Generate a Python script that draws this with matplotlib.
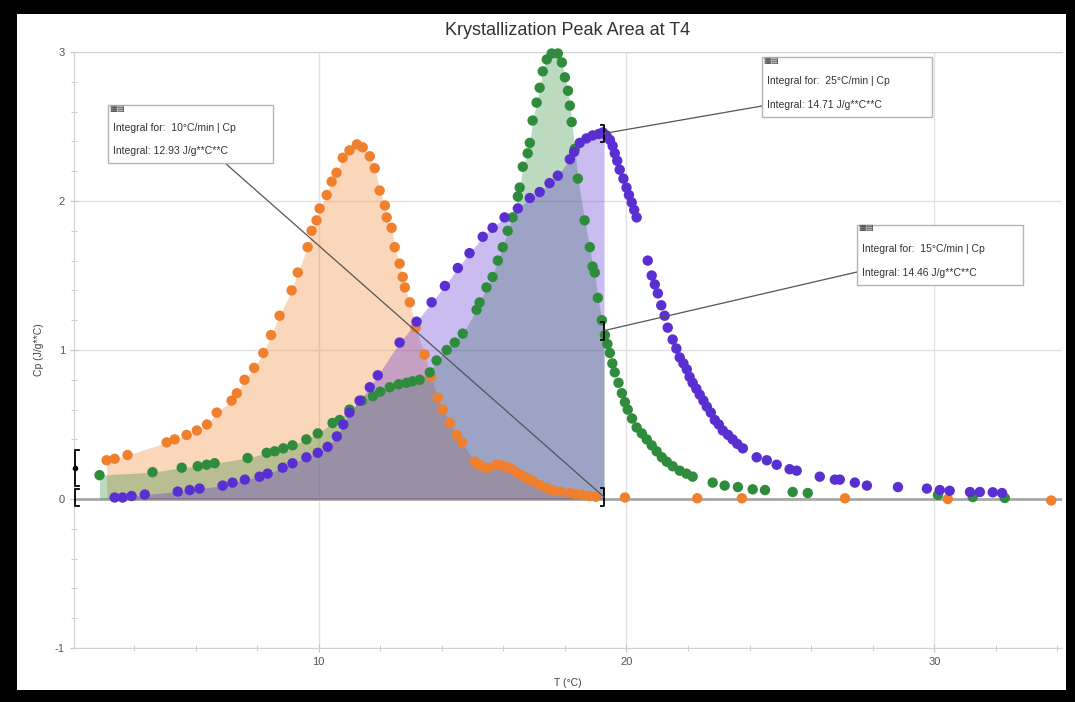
# ===============================
# Imports
# ===============================
import numpy as np
import matplotlib
matplotlib.use("Agg")
import matplotlib.pyplot as plt
from matplotlib.patches import Rectangle
from matplotlib.ticker import MultipleLocator

plt.rcParams['font.family'] = ['Liberation Sans', 'DejaVu Sans']
plt.rcParams['axes.unicode_minus'] = False

# ===============================
# Data (Cp vs T, three cooling rates)
# ===============================
t_10 = [3.11, 3.37, 3.79, 5.06, 5.32, 5.71, 6.04, 6.37, 6.69, 7.17, 7.34, 7.59, 7.9, 8.2,
        8.45, 8.73, 9.12, 9.32, 9.64, 9.77, 9.93, 10.03, 10.26, 10.42, 10.58, 10.78, 11.0,
        11.24, 11.43, 11.66, 11.82, 11.98, 12.15, 12.21, 12.37, 12.47, 12.63, 12.73, 12.8,
        12.96, 13.15, 13.44, 13.65, 13.87, 14.03, 14.26, 14.49, 14.65, 15.07, 15.2, 15.33,
        15.5, 15.78, 15.95, 16.11, 16.27, 16.43, 16.6, 16.76, 16.95, 17.18, 17.4, 17.6,
        17.85, 18.16, 18.35, 18.58, 18.8, 19.0, 19.95, 22.3, 23.75, 27.1, 30.44, 33.8]
cp_10 = [0.26, 0.27, 0.295, 0.38, 0.40, 0.43, 0.46, 0.50, 0.58, 0.66, 0.71, 0.80, 0.88, 0.98,
         1.1, 1.23, 1.40, 1.52, 1.69, 1.80, 1.87, 1.95, 2.04, 2.13, 2.19, 2.29, 2.34,
         2.38, 2.36, 2.30, 2.22, 2.07, 1.97, 1.89, 1.82, 1.69, 1.58, 1.49, 1.42,
         1.32, 1.15, 0.97, 0.82, 0.68, 0.60, 0.51, 0.43, 0.38, 0.25, 0.23, 0.215,
         0.21, 0.23, 0.225, 0.215, 0.20, 0.18, 0.16, 0.14, 0.12, 0.094, 0.075, 0.06,
         0.05, 0.04, 0.033, 0.027, 0.02, 0.015, 0.01, 0.005, 0.005, 0.005, 0.0, -0.01]

t_25 = [2.88, 4.6, 5.55, 6.07, 6.36, 6.62, 7.69, 8.31, 8.57, 8.85, 9.15, 9.6, 9.97, 10.45,
        10.68, 11.0, 11.4, 11.76, 12.0, 12.31, 12.6, 12.86, 13.05, 13.28, 13.61, 13.83,
        14.16, 14.42, 14.68, 15.13, 15.23, 15.45, 15.65, 15.82, 15.98, 16.14, 16.3, 16.47,
        16.53, 16.63, 16.79, 16.86, 16.95, 17.08, 17.18, 17.28, 17.41, 17.57, 17.77, 17.9,
        18.0, 18.1, 18.16, 18.22, 18.32, 18.42, 18.64, 18.81, 18.9, 18.97, 19.07, 19.2,
        19.3, 19.38, 19.46, 19.54, 19.62, 19.74, 19.85, 19.95, 20.04, 20.18, 20.33, 20.5,
        20.66, 20.82, 20.98, 21.15, 21.31, 21.5, 21.73, 21.95, 22.15, 22.8, 23.19, 23.62,
        24.1, 24.5, 25.4, 25.89, 30.12, 31.25, 32.29]
cp_25 = [0.16, 0.18, 0.21, 0.22, 0.23, 0.24, 0.275, 0.31, 0.32, 0.34, 0.36, 0.40, 0.44, 0.51,
         0.53, 0.60, 0.66, 0.69, 0.72, 0.75, 0.77, 0.78, 0.79, 0.80, 0.85, 0.93,
         1.0, 1.05, 1.11, 1.27, 1.32, 1.42, 1.49, 1.60, 1.69, 1.80, 1.89, 2.03,
         2.09, 2.23, 2.32, 2.39, 2.54, 2.66, 2.76, 2.87, 2.95, 2.99, 2.99, 2.93,
         2.83, 2.74, 2.64, 2.53, 2.35, 2.15, 1.87, 1.69, 1.56, 1.52, 1.35, 1.20,
         1.10, 1.04, 0.98, 0.91, 0.85, 0.78, 0.71, 0.65, 0.60, 0.54, 0.48, 0.44,
         0.40, 0.36, 0.32, 0.28, 0.25, 0.22, 0.19, 0.17, 0.15, 0.11, 0.09, 0.08,
         0.065, 0.06, 0.047, 0.04, 0.027, 0.013, 0.007]

t_15 = [3.37, 3.63, 3.92, 4.35, 5.42, 5.81, 6.13, 6.88, 7.2, 7.6, 8.08, 8.34, 8.83, 9.15,
        9.6, 9.97, 10.29, 10.59, 10.8, 11.0, 11.33, 11.66, 11.92, 12.63, 13.18, 13.67,
        14.1, 14.52, 14.9, 15.33, 15.65, 16.04, 16.47, 16.86, 17.18, 17.5, 17.77, 18.16,
        18.3, 18.48, 18.7, 18.9, 19.1, 19.23, 19.35, 19.46, 19.55, 19.62, 19.7, 19.78,
        19.9, 20.0, 20.08, 20.17, 20.25, 20.33, 20.69, 20.82, 20.92, 21.02, 21.13, 21.24,
        21.34, 21.5, 21.62, 21.73, 21.85, 21.96, 22.05, 22.15, 22.27, 22.38, 22.5, 22.61,
        22.74, 22.87, 23.0, 23.13, 23.3, 23.45, 23.6, 23.78, 24.23, 24.56, 24.88, 25.3,
        25.53, 26.28, 26.77, 26.93, 27.42, 27.81, 28.82, 29.76, 30.18, 30.5, 31.16, 31.48,
        31.9, 32.2]
cp_15 = [0.01, 0.01, 0.02, 0.03, 0.05, 0.06, 0.07, 0.09, 0.11, 0.13, 0.15, 0.17, 0.21, 0.24,
         0.28, 0.31, 0.35, 0.42, 0.50, 0.58, 0.66, 0.75, 0.83, 1.05, 1.19, 1.32,
         1.43, 1.55, 1.65, 1.76, 1.82, 1.89, 1.95, 2.02, 2.06, 2.12, 2.17, 2.28,
         2.33, 2.39, 2.42, 2.44, 2.45, 2.46, 2.44, 2.41, 2.37, 2.32, 2.27, 2.21,
         2.15, 2.09, 2.04, 1.99, 1.94, 1.89, 1.60, 1.50, 1.44, 1.38, 1.30, 1.23,
         1.15, 1.07, 1.01, 0.95, 0.91, 0.87, 0.82, 0.78, 0.74, 0.70, 0.66, 0.62,
         0.58, 0.53, 0.50, 0.46, 0.43, 0.40, 0.37, 0.34, 0.28, 0.26, 0.23, 0.20,
         0.19, 0.15, 0.13, 0.13, 0.11, 0.09, 0.08, 0.07, 0.06, 0.055, 0.047, 0.047,
         0.045, 0.04]

# integration window end and left limit markers
t_end = 19.27
t_left_marker = 2.07
left_marker_y = [(0.09, 0.33), (-0.05, 0.07)]

integral_labels = ["10°C/min", "25°C/min", "15°C/min"]
integral_values = [12.93, 14.71, 14.46]

c_orange = '#F0802E'
c_green = '#2F8C3C'
c_purple = '#5A2FD2'

# ===============================
# Figure + framed canvas
# ===============================
W, H = 1075, 702
fig = plt.figure(figsize=(W / 100, H / 100), dpi=100)
fig.patch.set_facecolor('black')
fig.add_artist(Rectangle((17 / W, 1 - 690 / H), (1066 - 17) / W, (690 - 14) / H,
                         transform=fig.transFigure, facecolor='white', edgecolor='none', zorder=0))


def fpos(px, py):
    # pixel position (from top-left) -> figure fraction
    return px / W, 1 - py / H


ax = fig.add_axes([74 / W, 1 - 648 / H, (1062 - 74) / W, (648 - 52) / H])
ax.set_facecolor('none')
ax.set_xlim(2.05, 34.15)
ax.set_ylim(-1, 3)

ax.xaxis.set_major_locator(MultipleLocator(10))
ax.xaxis.set_minor_locator(MultipleLocator(2))
ax.yaxis.set_major_locator(MultipleLocator(1))
ax.yaxis.set_minor_locator(MultipleLocator(0.2))
ax.grid(True, which='major', color='#e2e2e2', linewidth=1.0)
ax.set_axisbelow(True)
ax.spines['right'].set_visible(False)
for side in ['left', 'bottom', 'top']:
    ax.spines[side].set_color('#d0d0d0')
ax.tick_params(which='both', direction='inout', color='#c4c4c4', labelsize=8,
               labelcolor='#555555')
ax.tick_params(which='major', length=6)
ax.tick_params(which='minor', length=4)
ax.axhline(0, color='#a8a8a8', linewidth=2.0, zorder=1)

ax.set_title('Krystallization Peak Area at T4', fontsize=13, color='#333333', pad=12)
ax.set_xlabel('T (°C)', fontsize=7.5, color='#444444', labelpad=8)
ax.set_ylabel('Cp (J/g**C)', fontsize=7.5, color='#444444', labelpad=8)

# ===============================
# Filled integration areas + points
# ===============================
series = [(t_10, cp_10, c_orange), (t_25, cp_25, c_green), (t_15, cp_15, c_purple)]
end_vals = []
for t, cp, col in series:
    t = np.array(t)
    cp = np.array(cp)
    y_end = np.interp(t_end, t, cp)
    end_vals.append(y_end)
    keep = t < t_end
    tf = np.append(t[keep], t_end)
    cf = np.append(cp[keep], y_end)
    ax.fill_between(tf, 0, cf, color=col, alpha=0.32, linewidth=0, zorder=2)

for t, cp, col in series:
    ax.scatter(t, cp, s=56, color=col, edgecolors='none', zorder=4, clip_on=False)


# ===============================
# Integration limit brackets
# ===============================
def bracket(x, y0, y1, dx):
    ax.plot([x + dx, x, x, x + dx], [y0, y0, y1, y1], color='black', linewidth=1.3,
            zorder=5, clip_on=False)


for y0, y1 in left_marker_y:
    bracket(t_left_marker, y0, y1, 0.15)
ax.plot(t_left_marker, np.mean(left_marker_y[0]), 'o', color='black', markersize=3, zorder=5,
        clip_on=False)
for y_end in end_vals:
    bracket(t_end, y_end - 0.06, y_end + 0.06, -0.1)

# ===============================
# Integral annotation boxes
# ===============================
# box corners in pixels: (left, top, right, bottom), leader start, series index
boxes = [((108, 105, 273, 163), (225, 163), 0),
         ((762, 57, 932, 117), (762, 106), 2),
         ((857, 225, 1023, 285), (857, 272), 1)]

for k, ((x0, y0, x1, y1), lead, idx) in enumerate(boxes):
    fx0, fy1 = fpos(x0, y1)
    fig.add_artist(Rectangle((fx0, fy1), (x1 - x0) / W, (y1 - y0) / H,
                             transform=fig.transFigure, facecolor='white',
                             edgecolor='#b5b5b5', linewidth=1.0, zorder=6))
    fig.text(*fpos(x0 + 1, y0 + 3), '▦▤', fontsize=6, color='#333333', va='center',
             ha='left', family=['DejaVu Sans'], zorder=7)
    fig.text(*fpos(x0 + 5, y0 + (y1 - y0) * 0.40),
             'Integral for:  %s | Cp' % integral_labels[k],
             fontsize=7.5, color='#333333', va='center', ha='left', zorder=7)
    fig.text(*fpos(x0 + 5, y0 + (y1 - y0) * 0.80),
             'Integral: %.2f J/g**C**C' % integral_values[k],
             fontsize=7.5, color='#333333', va='center', ha='left', zorder=7)
    ax.annotate('', xy=(t_end, end_vals[idx]), xycoords='data',
                xytext=fpos(*lead), textcoords='figure fraction',
                arrowprops=dict(arrowstyle='-', color='#555555', linewidth=0.9,
                                shrinkA=0, shrinkB=0), zorder=5)

fig.savefig('out.png', dpi=100, facecolor=fig.get_facecolor())
